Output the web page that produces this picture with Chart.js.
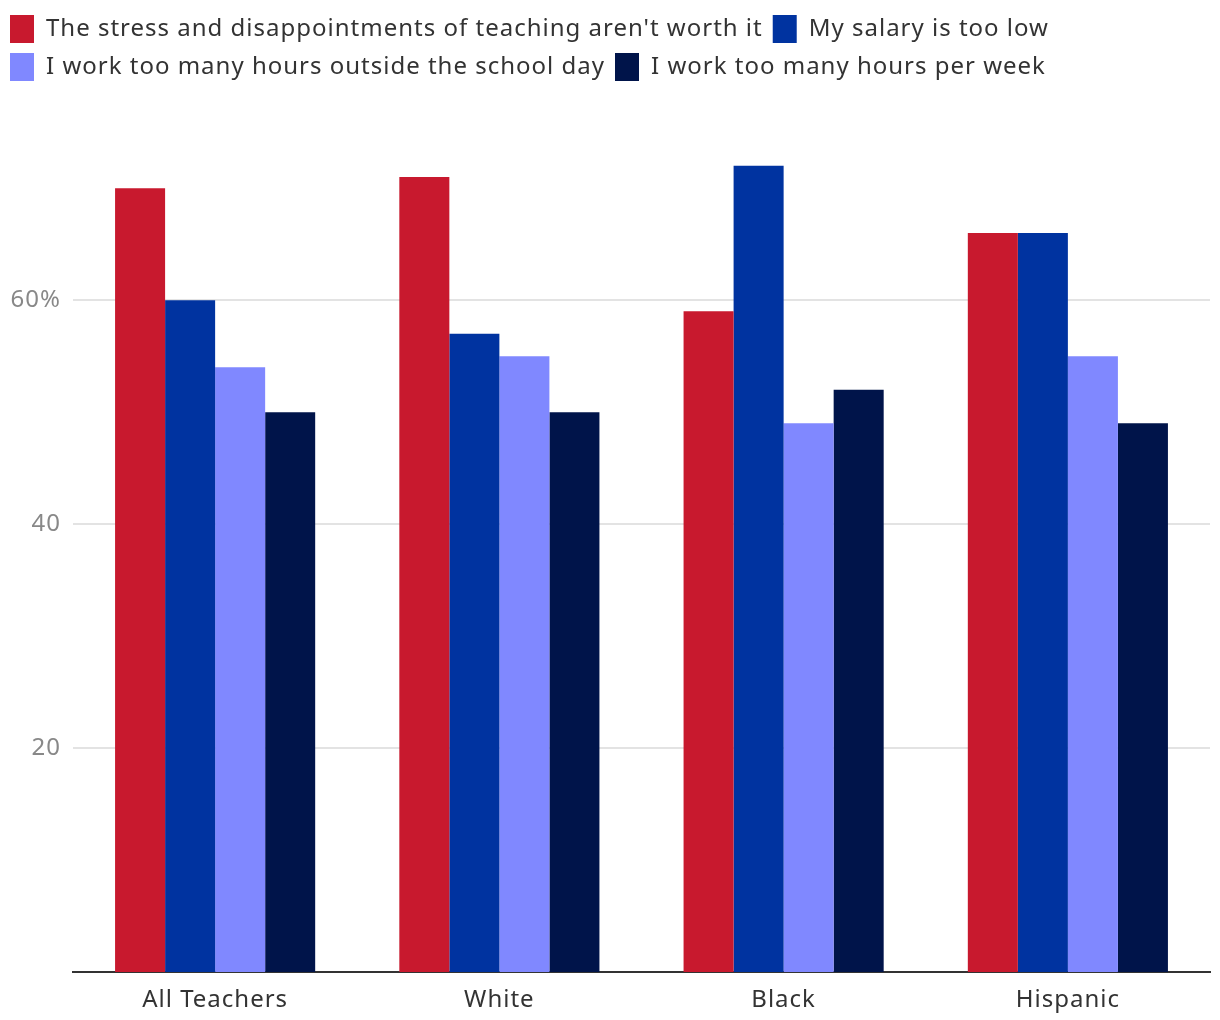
<!DOCTYPE html>
<html>
<head>
<meta charset="utf-8">
<script src="https://cdn.jsdelivr.net/npm/chart.js@4.4.0/dist/chart.umd.min.js"></script>
<style>
  html, body { margin: 0; padding: 0; background: #fff; }
  #wrap { width: 1220px; height: 1020px; }
</style>
</head>
<body>
<div id="wrap"><canvas id="chart" width="1220" height="1020"></canvas></div>
<script>
/* ===== Teacher reasons chart ===== */
const categories = ['All Teachers', 'White', 'Black', 'Hispanic'];
const seriesNames = [
    "The stress and disappointments of teaching aren't worth it",
    'My salary is too low',
    'I work too many hours outside the school day',
    'I work too many hours per week'
];
const stressValues = [70, 71, 59, 66];
const salaryValues = [60, 57, 72, 66];
const outsideHoursValues = [54, 55, 49, 55];
const weeklyHoursValues = [50, 50, 52, 49];
const yTicks = [20, 40, 60];

const colors = ['#c8192e', '#0033a0', '#8088ff', '#00144a'];
const FONT = "'Noto Sans', sans-serif";

Chart.defaults.font.family = FONT;
Chart.defaults.animation = false;

// fix legend block height so the plot area starts where the original does
const legendHeight = {
    id: 'legendHeight',
    beforeInit(chart) {
        const fit = chart.legend.fit;
        chart.legend.fit = function () { fit.bind(chart.legend)(); this.height = 116; };
    }
};

// original type is a bit wider, so add a touch of letter spacing
const spacing = {
    id: 'spacing',
    beforeLayout(chart) { chart.ctx.letterSpacing = '1px'; },
    beforeDraw(chart) { chart.ctx.letterSpacing = '1px'; }
};

const seriesData = [stressValues, salaryValues, outsideHoursValues, weeklyHoursValues];

new Chart(document.getElementById('chart'), {
    type: 'bar',
    data: {
        labels: categories,
        datasets: seriesNames.map((name, i) => ({
            label: name,
            data: seriesData[i],
            backgroundColor: colors[i],
            borderWidth: 0,
            barPercentage: 1,
            categoryPercentage: 0.704
        }))
    },
    options: {
        responsive: false,
        layout: { padding: { left: 0, right: 10, top: 5, bottom: 0 } },
        plugins: {
            legend: {
                position: 'top', align: 'start',
                labels: { boxWidth: 24, boxHeight: 28, padding: 10, color: '#333', font: { size: 24, family: FONT } }
            },
            tooltip: { enabled: false }
        },
        scales: {
            y: {
                min: 0, max: 76,
                afterBuildTicks: s => { s.ticks = yTicks.map(v => ({ value: v })); },
                afterFit: s => { s.width = 73; },
                border: { display: false },
                grid: { color: '#e3e3e3', lineWidth: 2, drawTicks: false },
                ticks: {
                    padding: 12, color: '#888', font: { size: 24, family: FONT },
                    callback: v => v === 60 ? v + '%' : v
                }
            },
            x: {
                afterFit: s => { s.height = 48; },
                border: { display: true, color: '#333', width: 2 },
                grid: { display: false },
                ticks: { color: '#333', padding: 6, font: { size: 24, family: FONT } }
            }
        }
    },
    plugins: [legendHeight, spacing]
});
</script>
</body>
</html>
